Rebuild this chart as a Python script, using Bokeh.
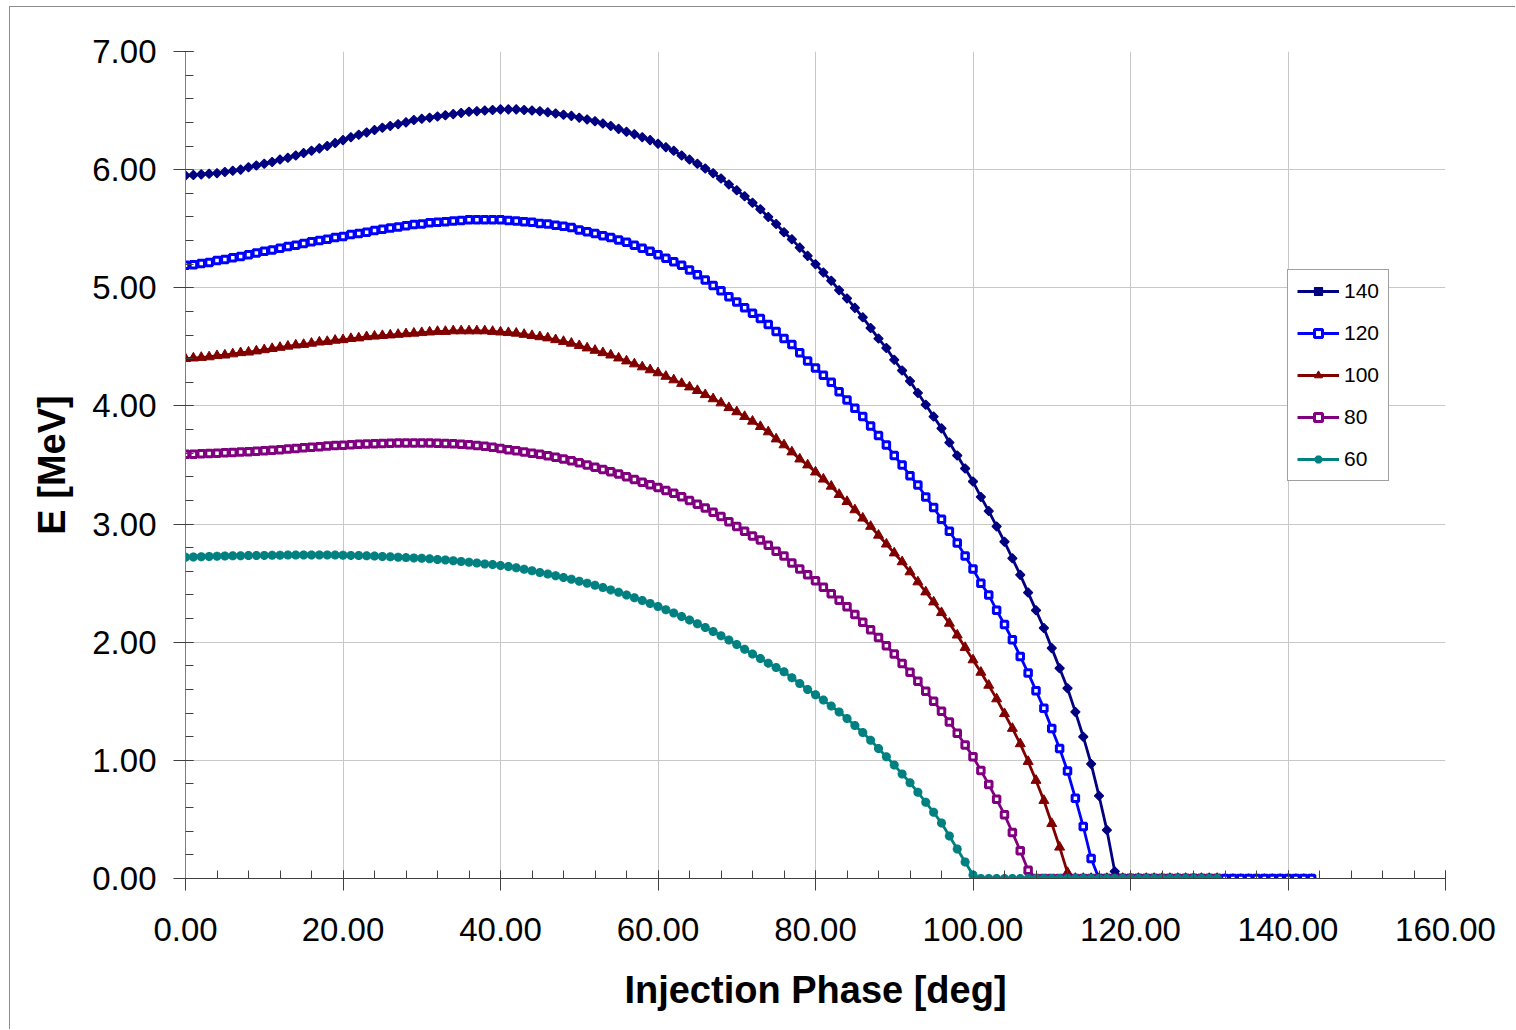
from bokeh.plotting import figure
from bokeh.models import (ColumnDataSource, Range1d, SingleIntervalTicker, NumeralTickFormatter,
                          Legend, LegendItem)
from bokeh.embed import file_html
from bokeh.resources import INLINE

# ---------------- data ----------------
phase_long = list(range(0, 144))   # deg, series 140 and 120
phase_short = list(range(0, 132))  # deg, series 100, 80, 60

e140 = [5.95, 5.955, 5.96, 5.965, 5.97, 5.98, 5.99, 6.00, 6.02, 6.035,
        6.05, 6.065, 6.085, 6.10, 6.12, 6.14, 6.16, 6.18, 6.20, 6.225,
        6.25, 6.275, 6.295, 6.315, 6.335, 6.355, 6.37, 6.385, 6.40, 6.42,
        6.43, 6.44, 6.45, 6.46, 6.47, 6.48, 6.49, 6.495, 6.50, 6.505,
        6.51, 6.51, 6.51, 6.505, 6.50, 6.495, 6.485, 6.475, 6.465, 6.455,
        6.44, 6.425, 6.41, 6.39, 6.37, 6.345, 6.32, 6.30, 6.275, 6.25,
        6.22, 6.19, 6.16, 6.12, 6.085, 6.05, 6.01, 5.97, 5.925, 5.875,
        5.825, 5.775, 5.72, 5.665, 5.60, 5.54, 5.47, 5.41, 5.34, 5.27,
        5.20, 5.13, 5.06, 4.98, 4.91, 4.83, 4.75, 4.66, 4.57, 4.49,
        4.39, 4.30, 4.21, 4.11, 4.01, 3.91, 3.81, 3.69, 3.58, 3.47,
        3.36, 3.23, 3.11, 2.98, 2.85, 2.71, 2.57, 2.42, 2.27, 2.12,
        1.95, 1.78, 1.61, 1.41, 1.20, 0.97, 0.70, 0.41, 0.06,
        0, 0, 0, 0, 0, 0, 0, 0, 0, 0, 0, 0, 0, 0, 0, 0, 0, 0, 0, 0, 0, 0, 0, 0, 0]

e120 = [5.19, 5.195, 5.205, 5.215, 5.23, 5.24, 5.255, 5.265, 5.28, 5.295,
        5.31, 5.32, 5.335, 5.35, 5.36, 5.375, 5.39, 5.40, 5.41, 5.425,
        5.435, 5.45, 5.46, 5.47, 5.485, 5.495, 5.505, 5.515, 5.525, 5.535,
        5.54, 5.55, 5.555, 5.56, 5.565, 5.57, 5.575, 5.575, 5.575, 5.575,
        5.575, 5.57, 5.565, 5.56, 5.555, 5.545, 5.54, 5.53, 5.52, 5.51,
        5.49, 5.475, 5.46, 5.44, 5.425, 5.405, 5.385, 5.36, 5.335, 5.31,
        5.28, 5.25, 5.22, 5.19, 5.15, 5.11, 5.065, 5.02, 4.975, 4.925,
        4.88, 4.83, 4.785, 4.74, 4.69, 4.63, 4.57, 4.52, 4.45, 4.38,
        4.32, 4.26, 4.20, 4.12, 4.05, 3.98, 3.91, 3.83, 3.75, 3.67,
        3.58, 3.50, 3.41, 3.33, 3.23, 3.14, 3.04, 2.94, 2.84, 2.73,
        2.62, 2.50, 2.40, 2.27, 2.15, 2.02, 1.88, 1.74, 1.59, 1.44,
        1.27, 1.10, 0.91, 0.68, 0.44, 0.17,
        0, 0, 0, 0, 0, 0, 0, 0, 0, 0, 0, 0, 0, 0, 0, 0, 0, 0, 0, 0, 0, 0, 0, 0, 0, 0, 0, 0]

e100 = [4.40, 4.405, 4.41, 4.415, 4.425, 4.43, 4.44, 4.45, 4.455, 4.465,
        4.475, 4.485, 4.495, 4.505, 4.515, 4.52, 4.53, 4.54, 4.545, 4.555,
        4.56, 4.57, 4.575, 4.585, 4.59, 4.595, 4.60, 4.605, 4.61, 4.615,
        4.62, 4.625, 4.63, 4.63, 4.635, 4.635, 4.635, 4.635, 4.635, 4.63,
        4.625, 4.62, 4.615, 4.605, 4.595, 4.585, 4.575, 4.56, 4.545, 4.53,
        4.51, 4.49, 4.47, 4.45, 4.43, 4.405, 4.38, 4.355, 4.33, 4.305,
        4.28, 4.25, 4.22, 4.19, 4.16, 4.13, 4.095, 4.06, 4.025, 3.985,
        3.95, 3.91, 3.87, 3.825, 3.78, 3.72, 3.67, 3.61, 3.55, 3.50,
        3.44, 3.38, 3.32, 3.25, 3.19, 3.12, 3.05, 2.98, 2.905, 2.83,
        2.755, 2.68, 2.595, 2.51, 2.425, 2.34, 2.25, 2.16, 2.06, 1.955,
        1.85, 1.745, 1.635, 1.52, 1.395, 1.27, 1.14, 0.99, 0.83, 0.66,
        0.465, 0.265, 0.05,
        0, 0, 0, 0, 0, 0, 0, 0, 0, 0, 0, 0, 0, 0, 0, 0, 0, 0, 0]

e80 = [3.59, 3.592, 3.595, 3.597, 3.60, 3.603, 3.606, 3.61, 3.613, 3.617,
       3.62, 3.625, 3.63, 3.635, 3.64, 3.645, 3.65, 3.655, 3.66, 3.665,
       3.668, 3.672, 3.675, 3.678, 3.68, 3.683, 3.685, 3.686, 3.687, 3.687,
       3.687, 3.686, 3.685, 3.683, 3.68, 3.676, 3.671, 3.665, 3.658, 3.65,
       3.64, 3.63, 3.62, 3.61, 3.60, 3.59, 3.578, 3.565, 3.55, 3.535,
       3.52, 3.50, 3.48, 3.462, 3.443, 3.423, 3.40, 3.378, 3.355, 3.332,
       3.31, 3.285, 3.26, 3.232, 3.20, 3.168, 3.135, 3.10, 3.065, 3.02,
       2.98, 2.94, 2.90, 2.865, 2.82, 2.77, 2.73, 2.67, 2.62, 2.57,
       2.52, 2.465, 2.41, 2.355, 2.30, 2.235, 2.17, 2.105, 2.04, 1.97,
       1.90, 1.82, 1.745, 1.67, 1.585, 1.50, 1.415, 1.325, 1.23, 1.13,
       1.03, 0.915, 0.795, 0.67, 0.54, 0.39, 0.235, 0.07,
       0, 0, 0, 0, 0, 0, 0, 0, 0, 0, 0, 0, 0, 0, 0, 0, 0, 0, 0, 0, 0, 0, 0, 0]

e60 = [2.72, 2.722, 2.724, 2.726, 2.728, 2.73, 2.731, 2.732, 2.733, 2.734,
       2.735, 2.736, 2.737, 2.738, 2.738, 2.739, 2.739, 2.739, 2.739, 2.738,
       2.737, 2.735, 2.733, 2.731, 2.729, 2.726, 2.723, 2.72, 2.716, 2.713,
       2.71, 2.706, 2.701, 2.696, 2.69, 2.684, 2.677, 2.67, 2.663, 2.657,
       2.65, 2.64, 2.63, 2.617, 2.604, 2.59, 2.577, 2.563, 2.548, 2.533,
       2.517, 2.50, 2.482, 2.463, 2.443, 2.422, 2.40, 2.377, 2.353, 2.328,
       2.302, 2.275, 2.247, 2.218, 2.188, 2.157, 2.125, 2.09, 2.055, 2.018,
       1.98, 1.94, 1.90, 1.862, 1.823, 1.785, 1.75, 1.70, 1.65, 1.60,
       1.555, 1.51, 1.46, 1.41, 1.355, 1.295, 1.235, 1.17, 1.10, 1.03,
       0.96, 0.885, 0.81, 0.73, 0.645, 0.56, 0.47, 0.36, 0.25, 0.14,
       0.03,
       0, 0, 0, 0, 0, 0, 0, 0, 0, 0, 0, 0, 0, 0, 0, 0, 0, 0, 0, 0, 0, 0, 0, 0, 0, 0, 0, 0, 0, 0, 0]

series_labels = ["140", "120", "100", "80", "60"]

# ---------------- figure ----------------
FONT = "Liberation Sans"

p = figure(frame_width=1260, frame_height=827,
           min_border_left=175, min_border_right=70,
           min_border_top=44, min_border_bottom=151,
           x_range=Range1d(0, 160), y_range=Range1d(0, 7),
           output_backend="svg", toolbar_location=None,
           margin=(6, 0, 0, 9),
           styles={"border-left": "1px solid #8c8c8c", "border-top": "1px solid #8c8c8c"})

p.outline_line_color = None
p.background_fill_color = "white"
p.border_fill_color = "white"

xt = SingleIntervalTicker(interval=20, num_minor_ticks=5)
yt = SingleIntervalTicker(interval=1, num_minor_ticks=5)
p.xaxis.ticker = xt
p.yaxis.ticker = yt
p.xgrid.ticker = xt
p.ygrid.ticker = yt
p.xaxis.formatter = NumeralTickFormatter(format="0.00")
p.yaxis.formatter = NumeralTickFormatter(format="0.00")

for g in (p.xgrid, p.ygrid):
    g.grid_line_color = "#c8c8c8"
    g.grid_line_width = 1

for ax in (p.xaxis, p.yaxis):
    ax.major_tick_in = 8
    ax.major_tick_out = 12
    ax.minor_tick_in = 8
    ax.minor_tick_out = 0
    ax.major_label_text_font = FONT
    ax.major_label_text_font_size = "33px"
    ax.major_label_text_color = "black"
    ax.axis_label_text_font = FONT
    ax.axis_label_text_font_size = "38px"
    ax.axis_label_text_font_style = "bold"
    ax.axis_label_text_color = "black"

p.xaxis.axis_line_color = "#404040"
p.xaxis.major_tick_line_color = "#404040"
p.xaxis.minor_tick_line_color = "#404040"
p.yaxis.axis_line_color = "#808080"
p.yaxis.major_tick_line_color = "#404040"
p.yaxis.minor_tick_line_color = "#404040"

p.xaxis.axis_label = "Injection Phase [deg]"
p.yaxis.axis_label = "E [MeV]"
p.xaxis.major_label_standoff = 27
p.yaxis.major_label_standoff = 17
p.xaxis.axis_label_standoff = 25
p.yaxis.axis_label_standoff = 16

# ---------------- series ----------------
specs = [
    (phase_long, e140, "#000080", dict(marker="square", angle=0.785398, size=6.5,
                                       fill_color="#000080", line_color="#000080", line_width=1.2)),
    (phase_long, e120, "#0000FF", dict(marker="square", size=6.5,
                                       fill_color="white", line_color="#0000FF", line_width=3)),
    (phase_short, e100, "#800000", dict(marker="triangle", size=10,
                                        fill_color="#800000", line_color="#800000", line_width=1)),
    (phase_short, e80, "#800080", dict(marker="square", size=6.5,
                                       fill_color="white", line_color="#800080", line_width=3)),
    (phase_short, e60, "#008080", dict(marker="asterisk", size=9,
                                       line_color="#008080", line_width=3)),
]

items = []
for (xs, ys, col, mk), lab in zip(specs, series_labels):
    src = ColumnDataSource(dict(x=xs, y=ys))
    lr = p.line("x", "y", source=src, line_color=col, line_width=2.8)
    sr = p.scatter("x", "y", source=src, **mk)
    items.append(LegendItem(label=lab, renderers=[lr, sr]))

legend = Legend(items=items, location=(1102, 397))
legend.label_text_font = FONT
legend.label_text_font_size = "21px"
legend.label_text_color = "black"
legend.glyph_width = 42
legend.glyph_height = 20
legend.label_height = 20
legend.label_standoff = 5
legend.spacing = 18
legend.padding = 9
legend.margin = 0
legend.border_line_color = "#404040"
legend.border_line_width = 1
legend.background_fill_color = "white"
legend.background_fill_alpha = 1.0
p.add_layout(legend)

open("out.html", "w").write(file_html(p, INLINE))
